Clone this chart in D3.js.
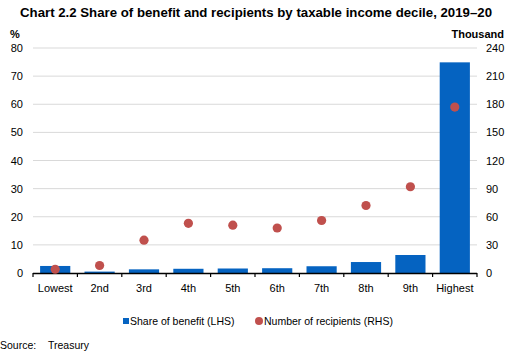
<!DOCTYPE html>
<html><head><meta charset="utf-8">
<script src="https://cdn.jsdelivr.net/npm/d3@7"></script>
<style>body{margin:0;background:#fff;} svg{display:block;font-family:"Liberation Sans",Arial,sans-serif;}</style>
</head><body>
<svg id="c" width="510" height="355"></svg>
<script>
const categories = ["Lowest","2nd","3rd","4th","5th","6th","7th","8th","9th","Highest"];
const shareOfBenefit = [2.5,0.5,1.3,1.5,1.6,1.7,2.4,3.9,6.4,74.9];
const recipients = [4,8,35,53,51,48,56,72,92,177];
const leftTicks = [0,10,20,30,40,50,60,70,80];
const rightTicks = [0,30,60,90,120,150,180,210,240];

const svg = d3.select("#c");
const x0 = 33, x1 = 477, yTop = 48, yBot = 273;
const x = d3.scaleBand().domain(categories).range([x0,x1]).paddingInner(0.32).paddingOuter(0.16);
const yL = d3.scaleLinear().domain([0,80]).range([yBot,yTop]);
const yR = d3.scaleLinear().domain([0,240]).range([yBot,yTop]);

svg.append("text").attr("x",256).attr("y",17).attr("text-anchor","middle")
  .attr("font-weight","bold").attr("font-size","13.5px")
  .attr("textLength",472).attr("lengthAdjust","spacingAndGlyphs")
  .text("Chart 2.2 Share of benefit and recipients by taxable income decile, 2019\u201320");
svg.append("text").attr("x",10).attr("y",38).attr("font-size","11px").attr("font-weight","bold").text("%");
svg.append("text").attr("x",504).attr("y",38).attr("text-anchor","end").attr("font-size","11px").attr("font-weight","bold").text("Thousand");

// gridlines
svg.append("g").selectAll("line").data(leftTicks.slice(1)).join("line")
  .attr("x1",x0).attr("x2",x1).attr("y1",d=>yL(d)).attr("y2",d=>yL(d))
  .attr("stroke","#d9d9d9").attr("stroke-width",1);

// left axis labels
const gl = svg.append("g").attr("transform",`translate(${x0},0)`)
  .call(d3.axisLeft(yL).tickValues(leftTicks).tickSize(0).tickPadding(10));
gl.select(".domain").remove();
gl.selectAll("text").attr("font-size","11px").attr("fill","#000").attr("font-family","Liberation Sans, Arial, sans-serif");

const gr = svg.append("g").attr("transform",`translate(${x1},0)`)
  .call(d3.axisRight(yR).tickValues(rightTicks).tickSize(0).tickPadding(9));
gr.select(".domain").remove();
gr.selectAll("text").attr("font-size","11px").attr("fill","#000").attr("font-family","Liberation Sans, Arial, sans-serif");

// bars
svg.append("g").selectAll("rect").data(categories).join("rect")
  .attr("x",d=>x(d)).attr("width",x.bandwidth())
  .attr("y",(d,i)=>yL(shareOfBenefit[i])).attr("height",(d,i)=>yBot-yL(shareOfBenefit[i]))
  .attr("fill","#0563c1");

// x axis
svg.append("line").attr("x1",x0).attr("x2",x1).attr("y1",yBot+0.5).attr("y2",yBot+0.5).attr("stroke","#000").attr("stroke-width",1.5);
const bounds = d3.range(categories.length+1).map(i=>x0+i*(x1-x0)/categories.length);
svg.append("g").selectAll("line").data(bounds).join("line")
  .attr("x1",d=>d).attr("x2",d=>d).attr("y1",yBot).attr("y2",yBot+4).attr("stroke","#000").attr("stroke-width",1.2);
svg.append("g").selectAll("text").data(categories).join("text")
  .attr("x",d=>x(d)+x.bandwidth()/2).attr("y",292).attr("text-anchor","middle").attr("font-size","11px").text(d=>d);

// dots
svg.append("g").selectAll("circle").data(categories).join("circle")
  .attr("cx",d=>x(d)+x.bandwidth()/2).attr("cy",(d,i)=>yR(recipients[i])).attr("r",4.6)
  .attr("fill","#c0504d");

// legend
svg.append("rect").attr("x",123).attr("y",318).attr("width",6).attr("height",6).attr("fill","#0563c1");
svg.append("text").attr("x",130).attr("y",325).attr("font-size","10.5px").text("Share of benefit (LHS)");
svg.append("circle").attr("cx",259).attr("cy",321).attr("r",4).attr("fill","#c0504d");
svg.append("text").attr("x",264).attr("y",325).attr("font-size","10.5px").text("Number of recipients (RHS)");

svg.append("text").attr("x",0).attr("y",349).attr("font-size","10.5px").text("Source:");
svg.append("text").attr("x",48).attr("y",349).attr("font-size","10.5px").text("Treasury");
</script>
</body></html>
